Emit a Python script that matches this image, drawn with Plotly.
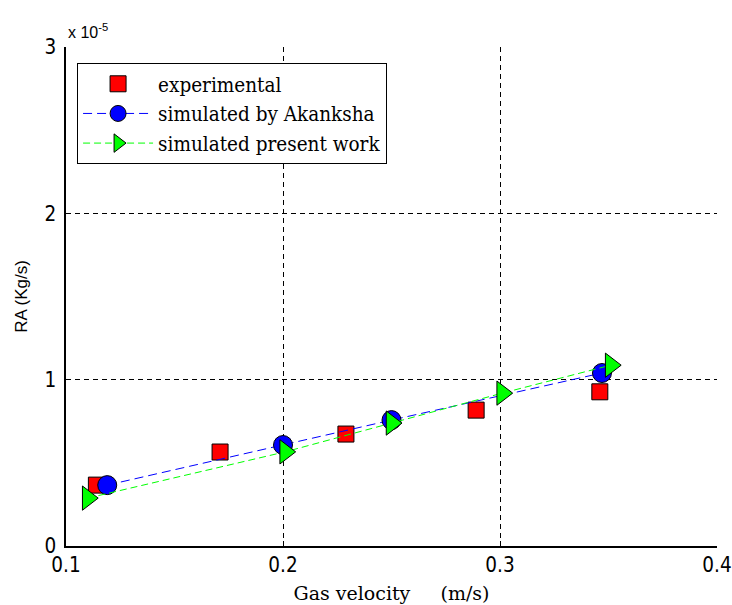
import plotly.graph_objects as go

# Data (RA in units of 1e-5 kg/s)
exp_x = [0.114, 0.171, 0.229, 0.289, 0.346]
exp_y = [0.366, 0.565, 0.673, 0.817, 0.927]
ak_x = [0.119, 0.200, 0.250, 0.347]
ak_y = [0.366, 0.607, 0.757, 1.040]
pw_x = [0.110, 0.201, 0.250, 0.301, 0.351]
pw_y = [0.288, 0.566, 0.739, 0.919, 1.087]

x_ticks = [0.1, 0.2, 0.3, 0.4]
x_ticktext = ["0.1", "0.2", "0.3", "0.4"]
y_ticks = [0, 1, 2, 3]
y_ticktext = ["0", "1", "2", "3"]

tick_font = dict(family="DejaVu Sans Condensed, Liberation Sans Narrow, sans-serif", size=20.5, color="black")
serif = "DejaVu Serif, Liberation Serif, serif"
legend_serif = "DejaVu Serif Condensed, DejaVu Serif, Liberation Serif, serif"

fig = go.Figure()
fig.add_trace(go.Scatter(x=exp_x, y=exp_y, mode="markers", name="experimental",
                         marker=dict(symbol="square", size=16, color="#ff0000",
                                     line=dict(color="black", width=1))))
fig.add_trace(go.Scatter(x=ak_x, y=ak_y, mode="lines+markers", name="simulated by Akanksha",
                         line=dict(color="#0000ff", width=1, dash="9px,5px"),
                         marker=dict(symbol="circle", size=19, color="#0000ff",
                                     line=dict(color="black", width=1))))
fig.add_trace(go.Scatter(x=pw_x, y=pw_y, mode="lines+markers", name="simulated present work",
                         line=dict(color="#00ff00", width=1, dash="7px,4px"),
                         marker=dict(symbol="triangle-right", size=21, color="#00ff00",
                                     line=dict(color="black", width=1))))

fig.update_layout(
    template="none",
    width=732, height=605,
    margin=dict(l=66, r=15, t=47, b=59, autoexpand=False),
    paper_bgcolor="white", plot_bgcolor="white",
    showlegend=True,
    legend=dict(x=0.017, y=0.968, xanchor="left", yanchor="top",
                bgcolor="white", bordercolor="black", borderwidth=1,
                font=dict(family=legend_serif, size=20.5, color="black"),
                itemwidth=70, tracegroupgap=0),
    xaxis=dict(range=[0.1, 0.4], tickvals=x_ticks, ticktext=x_ticktext, automargin=False,
               ticklabeloverflow="allow", ticklabelstandoff=0,
               showgrid=True, gridcolor="black", griddash="5px,4px", gridwidth=1,
               showline=True, linecolor="black", linewidth=1.5, mirror=False,
               ticks="inside", ticklen=5, tickcolor="black",
               zeroline=False, tickfont=tick_font,
               title=dict(text="Gas velocity     (m/s)", font=dict(family=serif, size=19, color="black"), standoff=10)),
    yaxis=dict(range=[0, 3], tickvals=y_ticks, ticktext=y_ticktext, automargin=False,
               ticklabeloverflow="allow", ticklabelstandoff=4,
               showgrid=True, gridcolor="black", griddash="5px,4px", gridwidth=1,
               showline=True, linecolor="black", linewidth=1.5, mirror=False,
               ticks="inside", ticklen=5, tickcolor="black",
               zeroline=False, tickfont=tick_font,
               title=dict(text="RA (Kg/s)", font=dict(family="Liberation Sans, Arial, sans-serif", size=17, color="black"), standoff=12)),
)

fig.add_annotation(text="x 10<sup>-5</sup>", xref="paper", yref="paper", x=0.0, y=1.0,
                   xanchor="left", yanchor="bottom", showarrow=False, yshift=4,
                   font=dict(family="Liberation Sans, Arial, sans-serif", size=16, color="black"))

fig.write_html("out.html", config={"displayModeBar": False},
               post_script="document.body.style.margin='0';document.body.style.overflow='hidden';")
